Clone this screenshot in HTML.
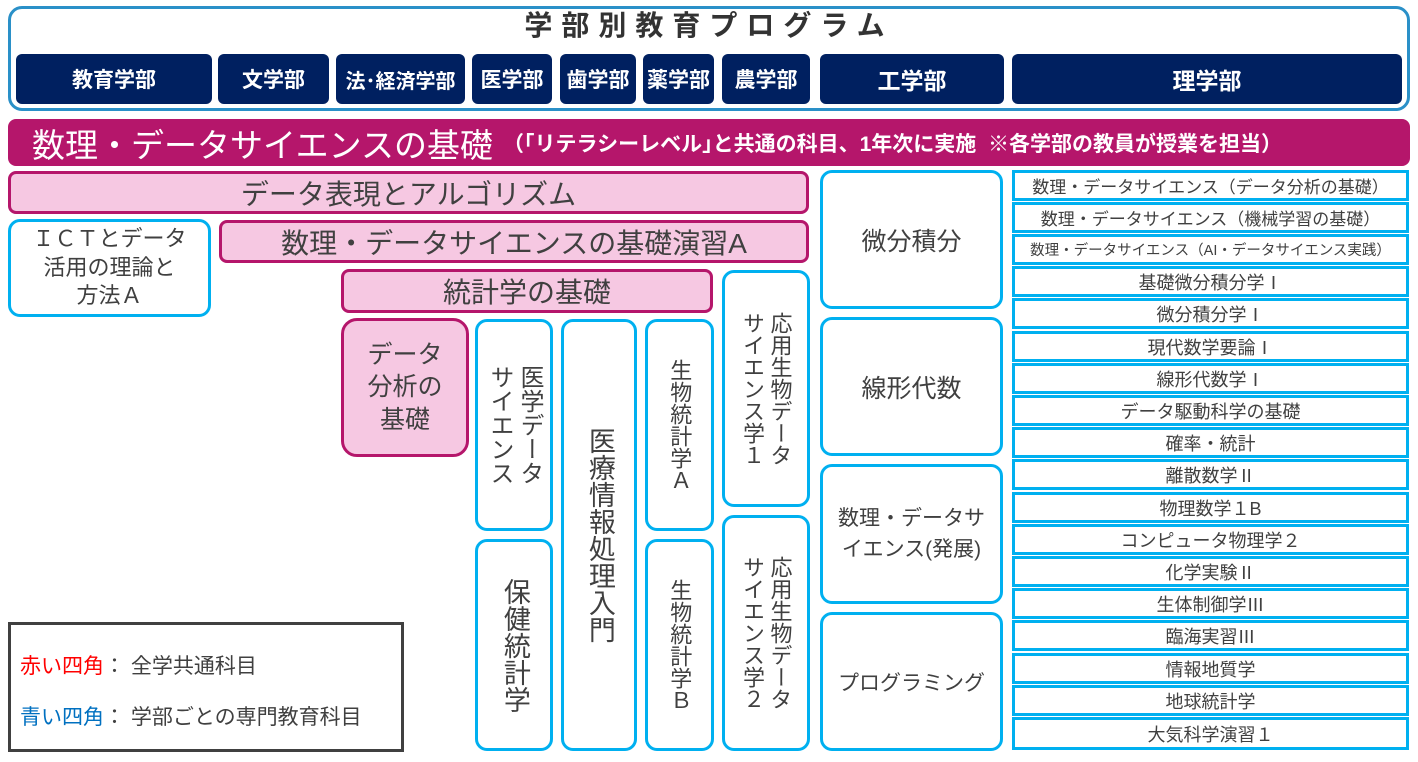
<!DOCTYPE html>
<html><head><meta charset="utf-8"><style>
*{box-sizing:border-box;margin:0;padding:0}
body{width:1418px;height:762px;background:#fff;position:relative;overflow:hidden;font-family:"Liberation Sans","Noto Sans CJK JP",sans-serif;color:#404040}
.a{position:absolute;display:flex;align-items:center;justify-content:center;text-align:center}
.d{background:#002060;color:#fff;font-weight:bold;font-size:21px;border-radius:6px;top:54px;height:50px}
.p{background:#f6c8e2;border:3px solid #b5166b;border-radius:8px}
.b{border:3px solid #00b0f0;border-radius:12px;background:#fff}
.v{writing-mode:vertical-rl;text-orientation:upright;line-height:1.25}
.r{border:3px solid #00b0f0;background:#fff;font-size:18px;left:1012px;width:397px;height:31px}
</style></head><body>
<div class="a" style="left:8px;top:6px;width:1402px;height:105px;border:3px solid #2a90c8;border-radius:14px;align-items:flex-start"></div>
<div class="a" style="left:8px;top:6px;width:1402px;height:36px;font-size:28px;font-weight:bold;letter-spacing:9px;color:#333">学部別教育プログラム</div>
<div class="a d" style="left:16px;width:196px">教育学部</div>
<div class="a d" style="left:218px;width:111px">文学部</div>
<div class="a d" style="left:336px;width:129px;font-size:20px">法･経済学部</div>
<div class="a d" style="left:472px;width:80px">医学部</div>
<div class="a d" style="left:560px;width:76px">歯学部</div>
<div class="a d" style="left:643px;width:71px">薬学部</div>
<div class="a d" style="left:722px;width:88px">農学部</div>
<div class="a d" style="left:820px;width:184px;font-size:23px">工学部</div>
<div class="a d" style="left:1012px;width:390px;font-size:23px">理学部</div>

<div class="a" style="left:8px;top:119px;width:1402px;height:47px;background:#b5166b;border-radius:8px;color:#fff;justify-content:flex-start;padding-left:24px">
<span style="font-size:33px">数理・データサイエンスの基礎</span><span style="font-size:21px;font-weight:bold;letter-spacing:0px;margin-left:10px">（｢リテラシーレベル｣と共通の科目、1年次に実施&nbsp;&nbsp;※各学部の教員が授業を担当）</span></div>

<div class="a p" style="left:8px;top:171px;width:801px;height:43px;font-size:28px">データ表現とアルゴリズム</div>
<div class="a b" style="left:8px;top:219px;width:203px;height:98px;font-size:22px;line-height:1.3">ＩＣＴとデータ<br>活用の理論と<br>方法Ａ</div>
<div class="a p" style="left:219px;top:220px;width:590px;height:43px;font-size:28px">数理・データサイエンスの基礎演習A</div>
<div class="a p" style="left:341px;top:269px;width:372px;height:44px;font-size:28px">統計学の基礎</div>
<div class="a p" style="left:341px;top:318px;width:128px;height:139px;font-size:25px;border-radius:16px;line-height:1.3">データ<br>分析の<br>基礎</div>

<div class="a b" style="left:475px;top:319px;width:78px;height:212px"><div class="v" style="font-size:24px">医学データ<br>サイエンス</div></div>
<div class="a b" style="left:475px;top:539px;width:78px;height:212px"><div class="v" style="font-size:27px">保健統計学</div></div>
<div class="a b" style="left:561px;top:319px;width:76px;height:432px"><div class="v" style="font-size:27px">医療情報処理入門</div></div>
<div class="a b" style="left:645px;top:319px;width:69px;height:212px"><div class="v" style="font-size:22px">生物統計学Ａ</div></div>
<div class="a b" style="left:645px;top:539px;width:69px;height:212px"><div class="v" style="font-size:22px">生物統計学Ｂ</div></div>
<div class="a b" style="left:722px;top:270px;width:88px;height:237px"><div class="v" style="font-size:22px">応用生物データ<br>サイエンス学１</div></div>
<div class="a b" style="left:722px;top:515px;width:88px;height:236px"><div class="v" style="font-size:22px">応用生物データ<br>サイエンス学２</div></div>

<div class="a b" style="left:820px;top:170px;width:183px;height:139px;font-size:25px">微分積分</div>
<div class="a b" style="left:820px;top:317px;width:183px;height:139px;font-size:25px">線形代数</div>
<div class="a b" style="left:820px;top:464px;width:183px;height:140px;font-size:21px;line-height:1.5">数理・データサ<br>イエンス(発展)</div>
<div class="a b" style="left:820px;top:612px;width:183px;height:139px;font-size:21px">プログラミング</div>

<div class="a r" style="top:170px;font-size:17px">数理・データサイエンス（データ分析の基礎）</div>
<div class="a r" style="top:202px;font-size:17px">数理・データサイエンス（機械学習の基礎）</div>
<div class="a r" style="top:234px;font-size:14.5px">数理・データサイエンス（AI・データサイエンス実践）</div>
<div class="a r" style="top:266px">基礎微分積分学Ⅰ</div>
<div class="a r" style="top:298px">微分積分学Ⅰ</div>
<div class="a r" style="top:331px">現代数学要論Ⅰ</div>
<div class="a r" style="top:363px">線形代数学Ⅰ</div>
<div class="a r" style="top:395px">データ駆動科学の基礎</div>
<div class="a r" style="top:427px">確率・統計</div>
<div class="a r" style="top:459px">離散数学Ⅱ</div>
<div class="a r" style="top:492px">物理数学１B</div>
<div class="a r" style="top:524px">コンピュータ物理学２</div>
<div class="a r" style="top:556px">化学実験Ⅱ</div>
<div class="a r" style="top:588px">生体制御学Ⅲ</div>
<div class="a r" style="top:620px">臨海実習Ⅲ</div>
<div class="a r" style="top:653px">情報地質学</div>
<div class="a r" style="top:685px">地球統計学</div>
<div class="a r" style="top:717px;height:33px">大気科学演習１</div>

<div style="position:absolute;left:8px;top:622px;width:396px;height:130px;border:3px solid #404040;font-size:21px">
<div style="position:absolute;left:9px;top:25px"><span style="color:#f00">赤い四角</span>：&nbsp;全学共通科目</div>
<div style="position:absolute;left:9px;top:76px"><span style="color:#0070c0">青い四角</span>：&nbsp;学部ごとの専門教育科目</div>
</div>
</body></html>
